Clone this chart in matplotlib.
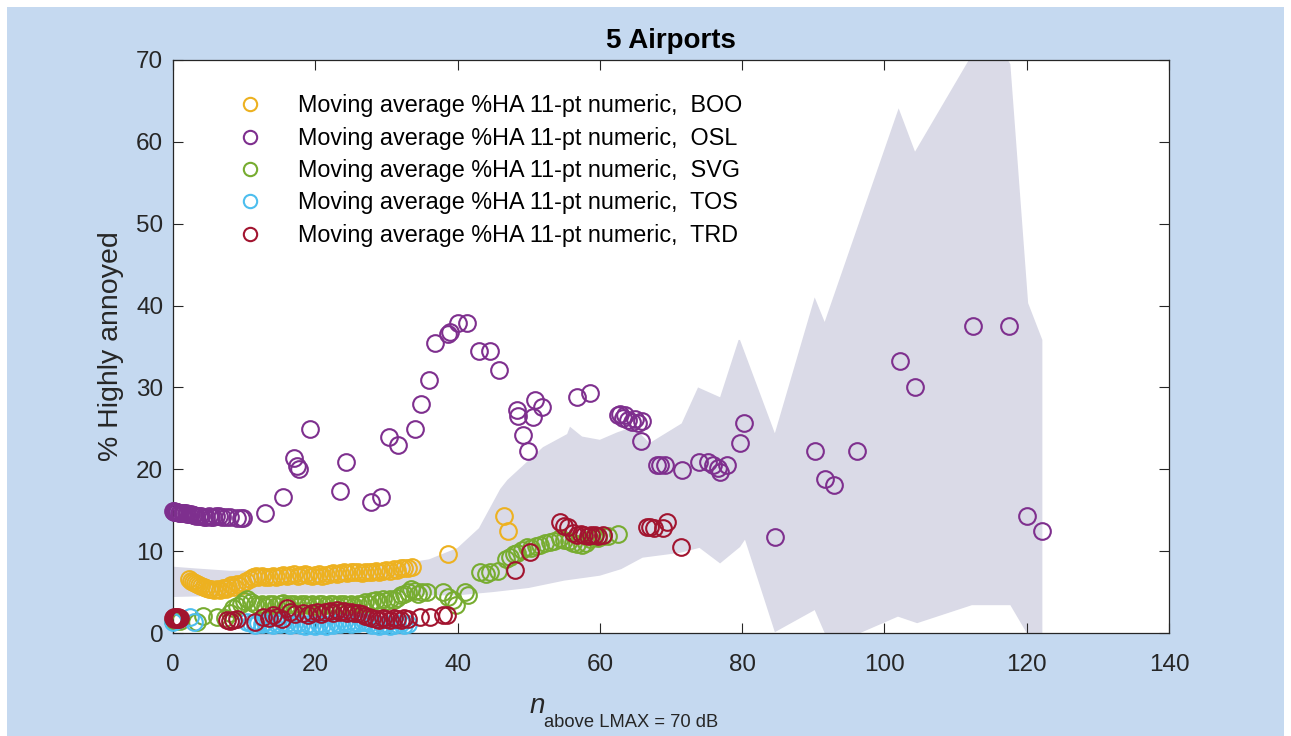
import numpy as np
import matplotlib
matplotlib.use('Agg')
import matplotlib.pyplot as plt
from matplotlib.patches import Rectangle

plt.rcParams['font.family'] = 'Liberation Sans'

# --- data ---
airports = ['BOO', 'OSL', 'SVG', 'TOS', 'TRD']
colors = ['#EDB120', '#7E2F8E', '#77AC30', '#4DBEEE', '#A2142F']

boo_x = [2.2, 2.5, 2.8, 3.1, 3.4, 3.7, 4.0, 4.3, 4.6, 5.0, 5.4, 5.8, 6.2, 6.6, 7.0, 7.4, 7.8, 8.2,
         8.6, 9.0, 9.4, 9.8, 10.3, 10.8, 11.2, 11.6, 12.0, 12.5, 13.0, 13.5, 14.0, 14.5, 15.0, 15.5,
         16.0, 16.5, 17.0, 17.5, 18.0, 18.5, 19.0, 19.5, 20.0, 20.5, 21.0, 21.5, 22.0, 22.5, 23.0,
         23.5, 24.0, 24.5, 25.0, 25.5, 26.0, 26.5, 27.0, 27.5, 28.0, 28.5, 29.0, 29.5, 30.0, 30.5,
         31.0, 31.5, 32.0, 32.5, 33.0, 33.6, 38.7, 46.5, 47.1]
boo_y = [6.6, 6.4, 6.2, 6.1, 6.0, 5.9, 5.7, 5.6, 5.5, 5.4, 5.4, 5.3, 5.4, 5.3, 5.5, 5.4, 5.6, 5.9,
         5.6, 6.0, 5.8, 6.1, 6.4, 6.6, 6.9, 7.0, 6.8, 7.0, 6.9, 6.8, 7.0, 6.9, 7.0, 7.1,
         7.0, 7.1, 7.2, 7.0, 7.1, 7.2, 7.1, 7.0, 7.1, 7.2, 7.0, 7.1, 7.2, 7.3, 7.2,
         7.3, 7.4, 7.3, 7.4, 7.5, 7.4, 7.3, 7.5, 7.4, 7.5, 7.6, 7.5, 7.6, 7.7, 7.6,
         7.8, 7.7, 7.9, 8.0, 7.9, 8.1, 9.6, 14.3, 12.5]

osl_x = [0.0, 0.1, 0.2, 0.3, 0.4, 0.5, 0.6, 0.8, 1.0, 1.2, 1.4, 1.6, 1.8, 2.0, 2.2, 2.5, 2.8,
         3.0, 3.3, 3.6, 4.0, 4.3, 4.6, 5.0, 5.3, 5.6, 6.0, 6.4, 6.9, 7.4, 8.0, 9.0, 9.5, 9.8,
         12.9, 15.4, 17.0, 17.4, 17.7, 19.3, 23.5, 24.3, 27.8, 29.2, 30.4, 31.6, 34.0, 34.9,
         36.0, 36.8, 38.7, 39.0, 40.1, 41.3, 43.0, 44.6, 45.8, 48.4, 48.5, 49.2, 49.9, 50.6,
         50.9, 51.8, 56.8, 58.6, 62.5, 62.8, 63.2, 63.6, 64.0, 64.5, 65.0, 65.4, 65.9, 65.8,
         68.0, 68.5, 69.2, 71.5, 74.0, 75.2, 75.9, 76.6, 76.9, 77.9, 79.7, 80.3, 84.6, 90.2,
         91.6, 92.9, 96.2, 102.2, 104.3, 112.5, 117.5, 120.0, 122.2]
osl_y = [14.9, 14.9, 14.8, 14.8, 14.8, 14.8, 14.8, 14.7, 14.7, 14.7, 14.6, 14.6, 14.6, 14.5, 14.5,
         14.5, 14.4, 14.4, 14.3, 14.3, 14.3, 14.2, 14.2, 14.3, 14.2, 14.2, 14.3, 14.3, 14.2, 14.2,
         14.2, 14.0, 14.0, 14.1,
         14.6, 16.6, 21.4, 20.4, 20.0, 24.9, 17.3, 20.9, 16.0, 16.6, 24.0, 23.0, 24.9, 28.0,
         30.9, 35.4, 36.5, 36.8, 37.9, 37.9, 34.4, 34.4, 32.1, 27.2, 26.5, 24.2, 22.2, 26.4,
         28.5, 27.6, 28.8, 29.3, 26.6, 26.8, 26.3, 26.6, 26.0, 25.8, 26.2, 25.6, 25.9, 23.4,
         20.5, 20.5, 20.5, 19.9, 20.9, 20.9, 20.5, 20.1, 19.7, 20.5, 23.2, 25.6, 11.7, 22.2,
         18.8, 18.1, 22.2, 33.2, 30.0, 37.5, 37.5, 14.3, 12.5]

svg_x = [0.0, 0.2, 0.4, 0.6, 1.0, 3.4, 4.2, 6.2, 7.3, 8.0, 8.5, 9.0, 9.5, 10.0, 10.4, 11.0, 11.5,
         12.0, 12.5, 13.0, 13.5, 14.0, 14.5, 15.0, 15.5, 16.0, 16.5, 17.0, 17.5, 18.0, 18.5, 19.0,
         19.5, 20.0, 20.5, 21.0, 21.5, 22.0, 22.5, 23.0, 23.5, 24.0, 24.5, 25.0, 25.5, 26.0, 26.5,
         27.0, 27.5, 28.0, 28.5, 29.0, 29.5, 30.0, 30.5, 31.0, 31.5, 32.0, 32.5, 33.0, 33.5, 34.0,
         34.5, 35.0, 35.7, 38.0, 38.6, 39.3, 39.8, 41.0, 41.5, 43.2, 44.0, 44.6, 45.7, 46.8, 47.4,
         48.0, 48.4, 49.0, 49.7, 50.3, 51.0, 51.6, 52.3, 53.0, 53.6, 54.4, 55.0, 55.6, 56.2, 56.8,
         57.5, 58.0, 58.6, 59.2, 59.8, 60.5, 61.2, 62.5]
svg_y = [1.5, 1.6, 1.5, 1.7, 1.5, 1.3, 2.1, 1.9, 1.8, 2.5, 3.0, 3.3, 3.6, 3.9, 4.2, 3.8, 3.6,
         3.4, 3.5, 3.3, 3.6, 3.5, 3.3, 3.5, 3.7, 3.4, 3.6, 3.5, 3.3, 3.5, 3.6, 3.4,
         3.5, 3.3, 3.6, 3.5, 3.4, 3.6, 3.5, 3.3, 3.5, 3.6, 3.4, 3.5, 3.3, 3.5, 3.6,
         3.8, 3.6, 3.9, 4.0, 3.8, 4.1, 3.9, 4.2, 4.0, 4.3, 4.6, 4.8, 5.0, 5.4, 5.1,
         4.8, 5.0, 5.0, 5.0, 4.4, 4.0, 3.4, 5.0, 4.6, 7.5, 7.2, 7.4, 7.6, 9.0, 9.3,
         9.6, 9.8, 10.1, 10.5, 10.4, 10.6, 10.7, 11.0, 11.1, 11.3, 11.6, 11.4, 11.2, 11.0, 10.9,
         10.7, 11.0, 11.5, 11.7, 11.6, 11.8, 11.8, 12.1]

tos_x = [0.0, 0.5, 2.4, 3.0, 10.4, 11.0, 11.5, 12.0, 12.5, 13.0, 13.5, 14.0, 14.5, 15.0, 15.5,
         16.0, 16.5, 17.0, 17.5, 18.0, 18.5, 19.0, 19.5, 20.0, 20.5, 21.0, 21.5, 22.0, 22.5, 23.0,
         23.5, 24.0, 24.5, 25.0, 25.5, 26.0, 26.5, 27.0, 27.5, 28.0, 28.5, 29.0, 29.5, 30.0, 30.5,
         31.0, 31.5, 32.0, 32.5, 33.0]
tos_y = [1.4, 1.6, 2.0, 1.4, 1.3, 1.2, 1.0, 1.2, 1.1, 1.3, 1.1, 1.0, 1.2, 1.1, 1.3,
         1.2, 1.0, 1.1, 1.2, 1.0, 0.9, 1.1, 1.0, 0.9, 1.1, 1.0, 0.9, 1.1, 1.0, 1.2,
         1.1, 1.3, 1.2, 1.1, 1.3, 1.2, 1.4, 1.3, 1.2, 1.0, 1.1, 0.9, 1.0, 1.1, 0.9,
         1.0, 1.1, 1.2, 1.0, 1.1]

trd_x = [0.0, 0.1, 0.2, 0.3, 0.4, 0.5, 0.6, 0.7, 0.8, 1.0, 7.6, 8.0, 8.5, 9.0, 11.5, 12.7, 13.5,
         14.0, 14.6, 15.3, 16.0, 16.5, 17.2, 18.3, 19.0, 19.6, 20.2, 20.8, 21.4, 22.0, 22.5, 23.0,
         23.5, 24.0, 24.5, 25.0, 25.5, 26.0, 26.5, 27.0, 27.5, 28.0, 28.5, 29.0, 29.5, 30.0, 30.5,
         31.0, 31.5, 32.0, 32.5, 33.0, 34.7, 36.1, 38.0, 38.5, 48.1, 50.2, 54.4, 54.9, 55.5, 56.2,
         56.8, 57.3, 57.8, 58.3, 58.8, 59.3, 59.8, 60.4, 66.6, 67.1, 67.6, 68.9, 69.4, 71.4]
trd_y = [1.8, 1.9, 1.7, 1.8, 2.0, 1.7, 1.8, 1.9, 1.7, 1.8, 1.6, 1.5, 1.6, 1.7, 1.3, 2.0, 1.8,
         2.2, 1.9, 1.7, 3.0, 2.6, 2.3, 2.4, 2.2, 2.5, 2.6, 2.3, 2.6, 2.7, 2.5, 2.8,
         2.6, 2.7, 2.5, 2.6, 2.4, 2.5, 2.3, 2.1, 1.9, 1.8, 1.7, 1.6, 1.8, 1.7, 1.6,
         1.8, 1.7, 1.6, 1.8, 1.7, 1.9, 1.9, 2.2, 2.2, 7.7, 9.9, 13.6, 13.1, 13.0, 12.2,
         12.0, 12.1, 12.0, 11.9, 12.0, 12.0, 11.9, 12.0, 12.9, 12.9, 12.8, 12.8, 13.6, 10.5]

# grey band (upper and lower edges)
band_up_x = [0, 3, 8, 15, 25, 30, 33, 36, 40, 43, 46, 47, 50.5, 52, 55.4, 55.8, 57.5, 60, 62.4,
             64.7, 67, 71.5, 73.8, 76.9, 79.5, 79.7, 84.6, 90.2, 91.6, 102, 104.3, 112, 114.5,
             117.7, 120.2, 122.2]
band_up_y = [8.1, 7.9, 7.6, 7.7, 7.9, 8.2, 8.6, 9.0, 10.4, 12.8, 17.6, 18.7, 21.5, 22.7, 24.3, 25.2,
             24.0, 23.6, 24.5, 25.2, 23.2, 25.6, 30.0, 28.8, 35.8, 35.8, 24.4, 41.0, 38.0, 64.1,
             58.8, 70.2, 74.0, 69.5, 40.3, 35.8]
band_lo_x = [0, 5, 10, 20, 30, 34, 40, 45, 50, 55, 60, 63, 66, 71.3, 74, 76.9, 79.7, 80.4, 84.6,
             90.2, 91.6, 96.6, 101.9, 104.6, 112.3, 117.7, 120, 122.2]
band_lo_y = [4.4, 4.5, 4.7, 4.8, 4.7, 4.6, 4.6, 5.0, 5.5, 6.4, 7.0, 7.8, 9.2, 9.8, 10.4, 8.5, 10.5,
             11.4, 0.1, 2.8, 0.0, 0.0, 2.0, 1.2, 3.4, 3.4, 0.0, 0.0]

xs_all = [boo_x, osl_x, svg_x, tos_x, trd_x]
ys_all = [boo_y, osl_y, svg_y, tos_y, trd_y]

# --- figure ---
W, H = 1291, 736
fig = plt.figure(figsize=(W / 100, H / 100), dpi=100, facecolor='white')
fig.patches.append(Rectangle((7 / W, 0), 1277 / W, 729 / H, transform=fig.transFigure,
                             facecolor='#C5D9F0', edgecolor='none', zorder=-10))
ax = fig.add_axes([173 / W, 1 - 633 / H, 996 / W, 573 / H])
ax.set_facecolor('white')

poly_x = np.concatenate([band_up_x, band_lo_x[::-1]])
poly_y = np.concatenate([band_up_y, band_lo_y[::-1]])
ax.fill(poly_x, poly_y, color='#DADAE7', lw=0, zorder=1)

for name, xs, ys, c in zip(airports, xs_all, ys_all, colors):
    ax.plot(xs, ys, 'o', mfc='none', mec=c, ms=12, mew=1.5, clip_on=False, zorder=3,
            label='Moving average %HA 11-pt numeric,  ' + name)

ax.set_xlim(0, 140)
ax.set_ylim(0, 70)
ax.set_xticks(np.arange(0, 141, 20))
ax.set_yticks(np.arange(0, 71, 10))
ax.tick_params(direction='in', length=7, width=0.8, colors='#262626', labelsize=17.5,
               top=True, right=True)
ax.tick_params(axis='x', pad=15)
ax.tick_params(axis='y', pad=7)
for s in ax.spines.values():
    s.set_color('#262626')
    s.set_linewidth(0.9)

ax.set_title('5 Airports', fontsize=20, fontweight='bold', pad=8.5)
ax.set_ylabel('% Highly annoyed', fontsize=20.5, color='#262626', labelpad=9)

# x label: italic n with a subscript
ax.text(0.3584, -0.1396, 'n', transform=ax.transAxes, fontsize=20, style='italic',
        color='#262626', ha='left', va='baseline')
ax.text(0.3725, -0.164, 'above LMAX = 70 dB', transform=ax.transAxes, fontsize=13.2,
        color='#262626', ha='left', va='baseline')

ax.legend(loc='upper left', bbox_to_anchor=(0.054, 0.94), frameon=False, fontsize=16.8,
          markerscale=0.8, handletextpad=1.05, labelspacing=0.4, borderpad=0,
          borderaxespad=0)

fig.savefig('out.png', dpi=100, facecolor=fig.get_facecolor())
